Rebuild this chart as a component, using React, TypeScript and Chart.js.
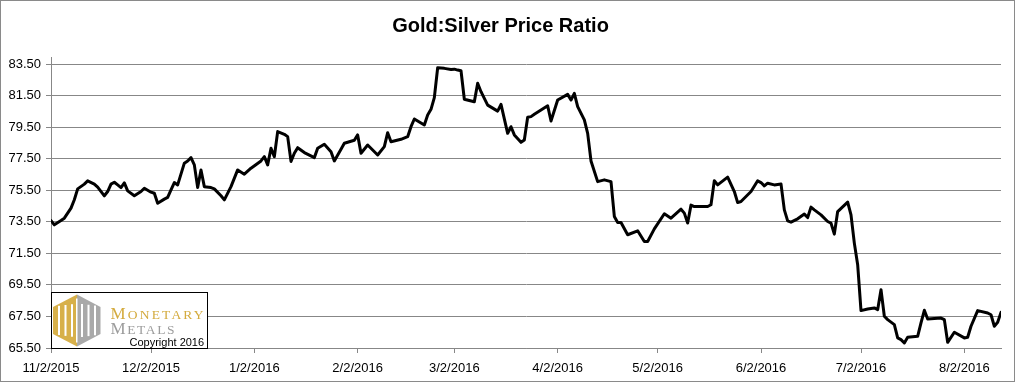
import React, { useEffect, useRef } from 'react';
import { Chart, registerables } from 'chart.js';

Chart.register(...registerables);

// Days counted from 11/2/2015
const dayOffsets = [
  0, 1, 3, 4, 6, 7, 8, 10, 11, 13, 14, 16, 17, 18, 19, 20, 21, 22, 23, 25, 27, 28, 30, 31, 32, 34, 35, 36, 37, 38,
  40, 41, 42, 43, 44, 45, 46, 48, 49, 51, 52, 54, 56, 58, 60, 63, 64, 65, 66, 67, 68, 70, 71, 72, 73, 74, 76, 79, 80, 82,
  84, 85, 87, 88, 91, 92, 93, 95, 98, 100, 101, 102, 105, 107, 108, 109, 110, 112, 113, 114, 115, 116, 118, 120, 121, 122, 123, 124, 127, 128,
  129, 131, 134, 135, 137, 138, 139, 141, 142, 143, 144, 145, 149, 150, 152, 155, 156, 157, 158, 160, 161, 162, 164, 166, 168, 169, 170, 171, 173, 176,
  178, 179, 181, 184, 186, 189, 190, 191, 192, 193, 197, 198, 199, 200, 203, 205, 206, 207, 210, 212, 213, 214, 215, 217, 219, 220, 221, 222, 224, 226,
  227, 228, 229, 231, 233, 234, 235, 236, 239, 240, 241, 242, 243, 245, 247, 248, 249, 250, 251, 253, 254, 255, 256, 257, 260, 261, 262, 263, 267, 268,
  269, 271, 274, 275, 276, 278, 281, 282, 283, 284, 285,
];

const ratioValues = [
  73.58, 73.31, 73.58, 73.73, 74.37, 74.9, 75.59, 75.89, 76.1, 75.89, 75.7, 75.15, 75.42, 75.89, 76.01, 75.84, 75.67, 75.97, 75.46, 75.15, 75.42, 75.63, 75.38, 75.31, 74.68, 74.94, 75.05, 75.53, 75.99, 75.84,
  77.22, 77.36, 77.57, 77.11, 75.67, 76.79, 75.73, 75.67, 75.59, 75.15, 74.89, 75.73, 76.79, 76.52, 76.9, 77.36, 77.63, 77.11, 78.16, 77.63, 79.22, 79.05, 78.9, 77.33, 77.85, 78.2, 77.89, 77.57, 78.16, 78.42,
  77.95, 77.36, 78.1, 78.48, 78.67, 79.01, 77.85, 78.37, 77.74, 78.27, 79.15, 78.58, 78.73, 78.9, 79.53, 80.02, 79.89, 79.64, 80.27, 80.63, 81.37, 83.27, 83.23, 83.16, 83.18, 83.12, 83.08, 81.27, 81.11, 82.28,
  81.75, 80.9, 80.52, 80.95, 79.11, 79.53, 79.01, 78.54, 78.69, 80.13, 80.17, 80.32, 80.86, 79.89, 81.22, 81.58, 81.22, 81.64, 80.8, 79.96, 79.11, 77.36, 76.05, 76.16, 76.05, 73.84, 73.46, 73.46, 72.68, 72.93,
  72.25, 72.25, 73.05, 74.01, 73.73, 74.3, 74.05, 73.42, 74.56, 74.47, 74.47, 74.58, 76.11, 75.84, 76.33, 75.42, 74.72, 74.79, 75.42, 76.1, 75.99, 75.78, 75.95, 75.84, 75.9, 74.26, 73.56, 73.48, 73.69, 73.99,
  73.77, 74.43, 74.26, 73.94, 73.52, 73.42, 72.72, 74.15, 74.75, 73.94, 72.15, 70.78, 67.87, 67.97, 68.04, 67.93, 69.2, 67.51, 67.3, 66.98, 66.14, 66.03, 65.82, 66.18, 66.24, 67.09, 67.89, 67.34, 67.4, 67.3,
  65.86, 66.5, 66.14, 66.18, 66.88, 67.87, 67.72, 67.61, 66.88, 67.13, 67.76,
];

const xTickDays = [0, 30, 61, 92, 121, 152, 182, 213, 243, 274];
const xTickLabels = ['11/2/2015', '12/2/2015', '1/2/2016', '2/2/2016', '3/2/2016', '4/2/2016', '5/2/2016', '6/2/2016', '7/2/2016', '8/2/2016'];
const xMin = 0;
const xMax = 285;

const yTickValues = [65.5, 67.5, 69.5, 71.5, 73.5, 75.5, 77.5, 79.5, 81.5, 83.5];
const yMin = 65.5;
const yMax = 83.95;

const titleText = 'Gold:Silver Price Ratio';
const logoWord1 = ['M', 'ONETARY'];
const logoWord2 = ['M', 'ETALS'];
const copyrightText = 'Copyright 2016';

const FONT = '"Liberation Sans", Arial, sans-serif';
const SERIF = '"Liberation Serif", "DejaVu Serif", serif';
const GRID = '#878787';

const frameAndLogo = {
  id: 'frameAndLogo',
  beforeDraw(chart: any) {
    const ctx = chart.ctx;
    ctx.save();
    ctx.fillStyle = '#ffffff';
    ctx.fillRect(0, 0, chart.width, chart.height);
    ctx.strokeStyle = '#8a8a8a';
    ctx.lineWidth = 1;
    ctx.strokeRect(0.5, 0.5, chart.width - 2, chart.height - 2);
    ctx.restore();
  },
  afterDraw(chart: any) {
    const ctx = chart.ctx;
    const area = chart.chartArea;
    const bx = Math.round(area.left) + 0.5;
    const by = area.bottom - 56 + 0.5;
    const bw = 156;
    const bh = 56;
    ctx.save();
    ctx.fillStyle = '#ffffff';
    ctx.fillRect(bx, by, bw, bh);
    ctx.strokeStyle = '#000000';
    ctx.lineWidth = 1;
    ctx.strokeRect(bx, by, bw, bh);

    // hexagon emblem
    const cx = bx + 25.5;
    const top = by + 2;
    const bot = by + 54;
    const l = bx + 1.5;
    const r = bx + 49;
    const u = by + 14.5;
    const d = by + 41.5;
    ctx.fillStyle = '#D7B04A';
    ctx.beginPath();
    ctx.moveTo(cx, top);
    ctx.lineTo(l, u);
    ctx.lineTo(l, d);
    ctx.lineTo(cx, bot);
    ctx.closePath();
    ctx.fill();
    ctx.fillStyle = '#A9A9A9';
    ctx.beginPath();
    ctx.moveTo(cx, top);
    ctx.lineTo(r, u);
    ctx.lineTo(r, d);
    ctx.lineTo(cx, bot);
    ctx.closePath();
    ctx.fill();
    ctx.fillStyle = '#ffffff';
    const stripes = [-19, -12.5, -6, 4, 10.5, 17];
    stripes.forEach((s) => {
      ctx.fillRect(cx + s, by + 11 + Math.abs(s) * 0.12, 2, 34 - Math.abs(s) * 0.25);
    });
    ctx.fillRect(cx - 1, by + 6, 1.5, 44);

    // words
    const drawWord = (parts: string[], color: string, x: number, base: number, target: number) => {
      ctx.fillStyle = color;
      ctx.textBaseline = 'alphabetic';
      ctx.textAlign = 'left';
      (ctx as any).letterSpacing = '0px';
      ctx.font = `17px ${SERIF}`;
      const w0 = ctx.measureText(parts[0]).width;
      ctx.font = `13.5px ${SERIF}`;
      const w1 = ctx.measureText(parts[1]).width;
      const gap = Math.max(0, (target - w0 - w1) / parts[1].length);
      ctx.font = `17px ${SERIF}`;
      ctx.fillText(parts[0], x, base);
      ctx.font = `13.5px ${SERIF}`;
      (ctx as any).letterSpacing = `${gap}px`;
      ctx.fillText(parts[1], x + w0 + gap, base);
      (ctx as any).letterSpacing = '0px';
    };
    drawWord(logoWord1, '#D4AB3E', bx + 59, by + 26, 93);
    drawWord(logoWord2, '#9C9C9C', bx + 59, by + 41, 64);

    ctx.fillStyle = '#000000';
    ctx.font = `11px ${FONT}`;
    ctx.fillText(copyrightText, bx + 78, by + 53);
    ctx.restore();
  },
};

export default function App() {
  const canvasRef = useRef<HTMLCanvasElement | null>(null);

  useEffect(() => {
    if (!canvasRef.current) return;
    const points = dayOffsets.map((d, i) => ({ x: d, y: ratioValues[i] }));
    const chart = new Chart(canvasRef.current, {
      type: 'line',
      data: {
        datasets: [
          {
            label: 'Gold:Silver Ratio',
            data: points,
            borderColor: '#000000',
            borderWidth: 3,
            pointRadius: 0,
            tension: 0,
            borderJoinStyle: 'round',
            borderCapStyle: 'round',
            fill: false,
          },
        ],
      },
      options: {
        animation: false,
        responsive: true,
        maintainAspectRatio: false,
        layout: { padding: { left: 0, right: 15, top: 0, bottom: 0 } },
        plugins: {
          legend: { display: false },
          tooltip: { enabled: false },
          title: {
            display: true,
            text: titleText,
            color: '#000000',
            font: { family: FONT, size: 20, weight: 'bold', lineHeight: 1.2 },
            padding: { top: 14, bottom: 19 },
          },
        },
        scales: {
          x: {
            type: 'linear',
            min: xMin,
            max: xMax,
            afterBuildTicks: (axis: any) => {
              axis.ticks = xTickDays.map((v) => ({ value: v }));
            },
            afterFit: (axis: any) => {
              axis.height = 35;
            },
            ticks: {
              autoSkip: false,
              maxRotation: 0,
              minRotation: 0,
              padding: 8,
              color: '#000000',
              font: { family: FONT, size: 13 },
              callback: (_v: any, i: number) => xTickLabels[i],
            },
            grid: {
              drawOnChartArea: false,
              drawTicks: true,
              tickLength: 5,
              color: GRID,
              lineWidth: 1,
            },
            border: { display: true, color: GRID, width: 1 },
          },
          y: {
            type: 'linear',
            min: yMin,
            max: yMax,
            afterBuildTicks: (axis: any) => {
              axis.ticks = yTickValues.map((v) => ({ value: v }));
            },
            afterFit: (axis: any) => {
              axis.width = 51;
            },
            ticks: {
              padding: 5,
              color: '#000000',
              font: { family: FONT, size: 13 },
              callback: (v: any) => Number(v).toFixed(2),
            },
            grid: {
              drawOnChartArea: true,
              drawTicks: true,
              tickLength: 5,
              color: GRID,
              lineWidth: 1,
            },
            border: { display: true, color: GRID, width: 1 },
          },
        },
      },
      plugins: [frameAndLogo],
    });
    return () => chart.destroy();
  }, []);

  return (
    <div style={{ position: 'fixed', left: 0, top: 0, width: 1016, height: 383, background: '#fff' }}>
      <canvas ref={canvasRef} />
    </div>
  );
}
